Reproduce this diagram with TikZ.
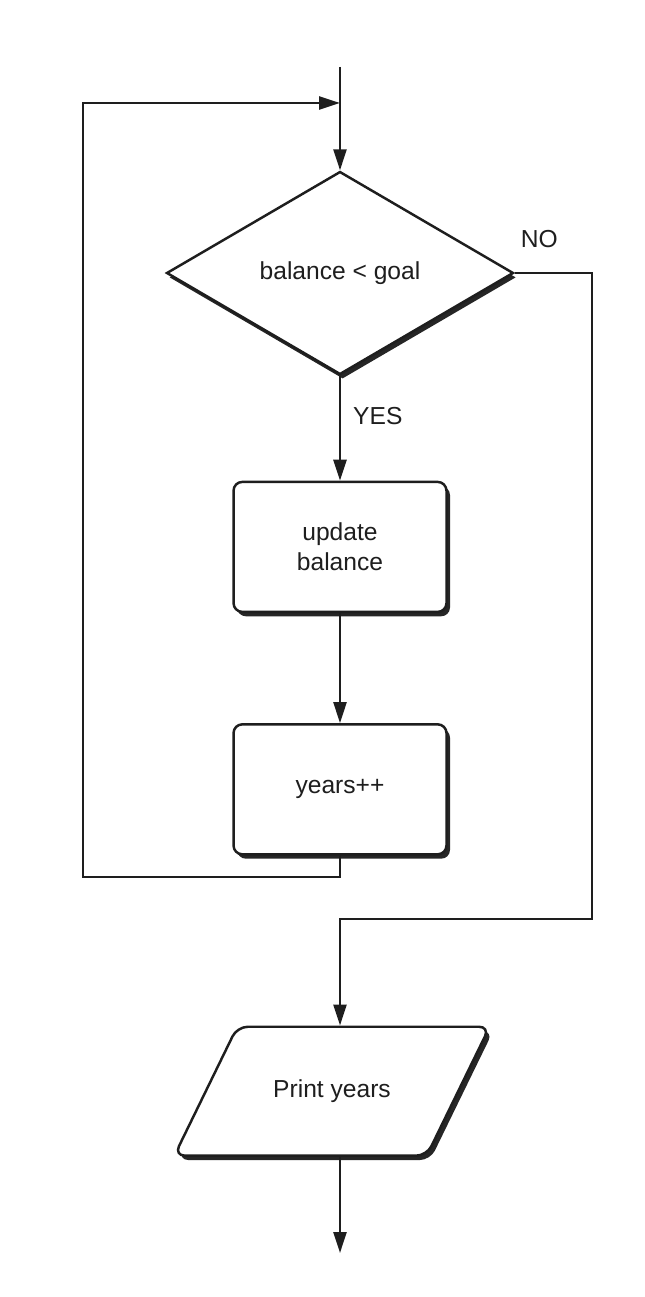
\documentclass[tikz,border=0pt]{standalone}
\usepackage{fontspec}
\setmainfont{Liberation Sans}
\usetikzlibrary{positioning, arrows.meta, shapes.geometric, shadows}
\definecolor{chartink}{HTML}{1E1E1E}
\definecolor{chartpaper}{HTML}{FFFFFF}

\begin{document}
\begin{tikzpicture}[
        x=0.02cm, y=-0.02cm,
        node distance=2.1cm,
        every node/.style={font=\fontsize{14}{17}\selectfont, text=chartink},
        stepbox/.style={
          draw=chartink, line width=1.4pt,
          fill=chartpaper,
          rounded corners=5pt,
          minimum width=4.26cm, minimum height=2.6cm,
          align=center,
          drop shadow={shadow xshift=2pt, shadow yshift=-2.5pt, fill=black, opacity=0.85},
        },
        decision/.style={
          diamond, draw=chartink, line width=1.4pt,
          fill=chartpaper,
          minimum width=6.94cm, minimum height=4.06cm,
          inner sep=0pt, align=center,
          drop shadow={shadow xshift=1.5pt, shadow yshift=-2.5pt, fill=black, opacity=0.85},
        },
        io/.style={
          trapezium, trapezium left angle=64, trapezium right angle=116,
          draw=chartink, line width=1.4pt,
          fill=chartpaper, rounded corners=6pt,
          inner xsep=0.72cm, inner ysep=1.06cm,
          align=center,
          drop shadow={shadow xshift=2pt, shadow yshift=-2.5pt, fill=black, opacity=0.85},
        },
        flow/.style={
          -{Triangle[length=0.42cm, width=0.26cm]}, draw=chartink, line width=1.4pt,
        },
        tag/.style={
          font=\fontsize{14}{17}\selectfont,
        },
      ]
      \useasboundingbox (0,0) rectangle (645,1297);

      \node[decision] (test) at (340,273) {balance < goal};
      \node[stepbox, below=2.1cm of test] (update) {update\\balance};
      \node[stepbox, below=2.2cm of update] (years) {years++};
      \node[io, below=3.4cm of years, xshift=-0.16cm] (print) {Print years};

      \coordinate (entry) at (340,67);
      \coordinate (join) at (340,103);
      \coordinate (back) at (83,877);
      \coordinate (skip) at (592,919);
      \coordinate (exit) at (340,1253);

      \draw[flow] (entry) -- (test);
      \draw[flow] (test) -- (update);
      \draw[flow] (update) -- (years);
      \draw[flow] (years.south) |- (back) |- (join);
      \draw[flow] (test.east) -| (skip) -| (test.south |- print.north);
      \draw[flow] (print.south -| exit) -- (exit);

      \node[tag, above right=0.38cm and 0cm of test.east] (no) {NO};
      \node[tag, below right=0.5cm and 0.14cm of test.south] (yes) {YES};
    \end{tikzpicture}
\end{document}
